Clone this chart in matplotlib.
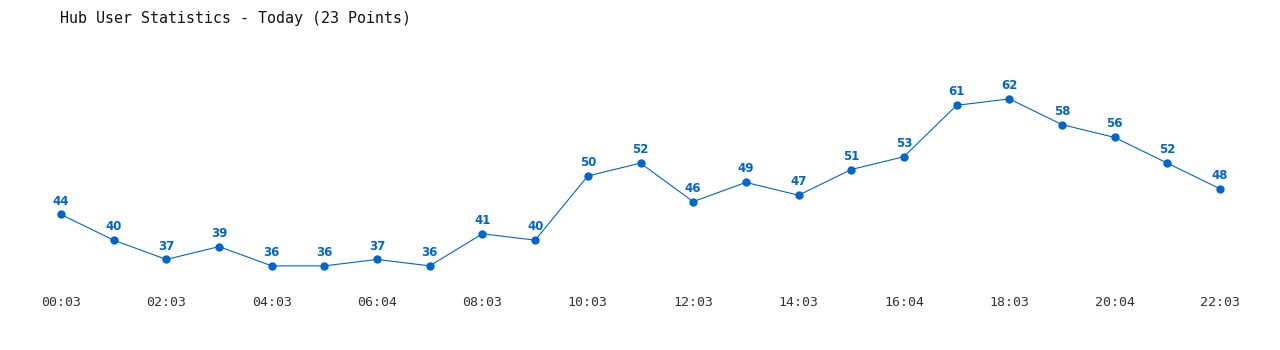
import matplotlib
matplotlib.use('Agg')
import matplotlib.pyplot as plt

# Datos del gráfico
times = ['00:03', '01:03', '02:03', '03:03', '04:03', '05:03', '06:04', '07:03',
         '08:03', '09:03', '10:03', '11:03', '12:03', '13:03', '14:03', '15:03',
         '16:04', '17:03', '18:03', '19:03', '20:04', '21:03', '22:03']
users = [44, 40, 37, 39, 36, 36, 37, 36, 41, 40, 50, 52, 46, 49, 47, 51, 53,
         61, 62, 58, 56, 52, 48]

blue = '#0066CC'

fig = plt.figure(figsize=(12.8, 3.5), dpi=100)
ax = fig.add_axes([0, 0, 1, 1])

x = list(range(len(users)))
ax.plot(x, users, color=blue, linewidth=0.8, marker='o', markersize=5)

for xi, v in zip(x, users):
    ax.annotate(str(v), (xi, v), xytext=(0, 5), textcoords='offset points',
                ha='center', va='bottom', color=blue, fontsize=8.5,
                fontweight='bold', family='DejaVu Sans')

ax.set_xlim(-1.158, 23.139)
ax.set_ylim(22.9, 77.4)
ax.axis('off')

# Etiquetas del eje x (cada dos puntos)
for xi in x[::2]:
    ax.text(xi, 36 - 37 / 6.42, times[xi], ha='center', va='center',
            fontsize=9.5, color='#333333', family='DejaVu Sans Mono')

fig.text(60 / 1280, 1 - 18 / 350, 'Hub User Statistics - Today (23 Points)',
         ha='left', va='center', fontsize=10.8, color='#111111',
         family='DejaVu Sans Mono')

fig.savefig('out.png', dpi=100, facecolor='white')
